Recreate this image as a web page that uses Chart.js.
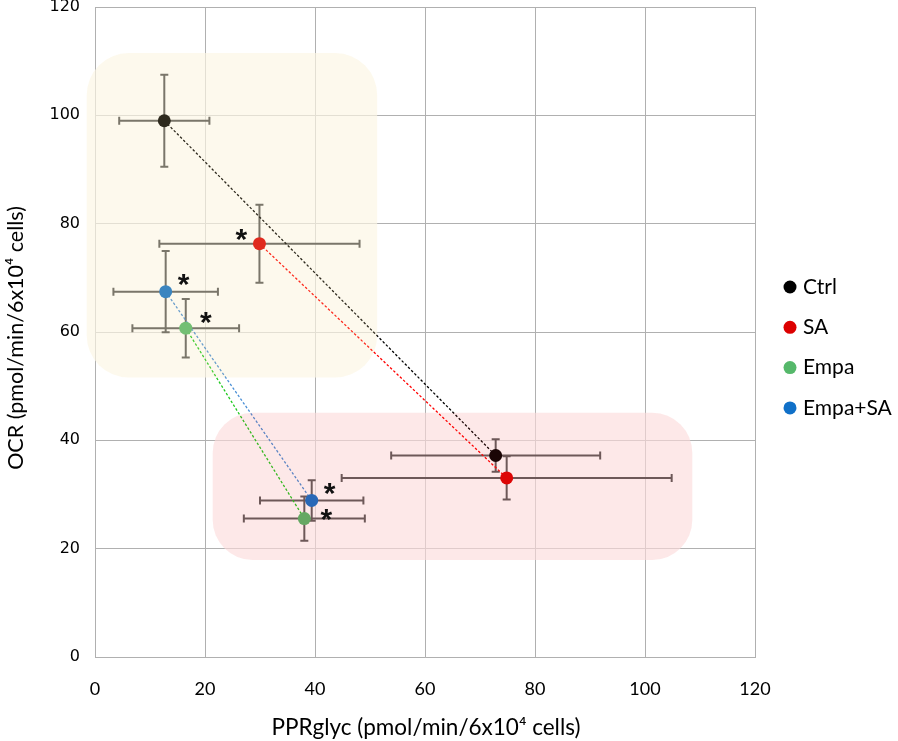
<!DOCTYPE html>
<html>
<head>
<meta charset="utf-8">
<script src="https://cdn.jsdelivr.net/npm/chart.js@4.4.1/dist/chart.umd.min.js"></script>
<style>
  html, body { margin: 0; padding: 0; background: #fff; }
  #wrap { width: 898px; height: 741px; }
</style>
</head>
<body>
<div id="wrap"><canvas id="myChart" width="898" height="741"></canvas></div>
<script>
// groups and values
const groups = ['Ctrl', 'SA', 'Empa', 'Empa+SA'];

// upper-left cluster
const pprA = [12.6, 29.9, 16.5, 12.85];
const ocrA = [99.0, 76.3, 60.7, 67.45];
const pprAErr = [8.2, 18.2, 9.7, 9.5];
const ocrAErr = [8.5, 7.2, 5.4, 7.5];

// lower-right cluster
const pprB = [72.85, 74.85, 38.06, 39.4];
const ocrB = [37.2, 33.06, 25.55, 28.9];
const pprBErr = [19.0, 30.0, 11.0, 9.4];
const ocrBErr = [3.0, 4.0, 4.1, 3.75];

// significance marks
const sigA = [false, true, true, true];
const sigB = [false, false, true, true];

const axisTicks = [0, 20, 40, 60, 80, 100, 120];

const pointColors = ['#000000', '#dc0000', '#55b86a', '#1070c8'];
const lineColors = ['#000000', '#ff0000', '#1ec81e', '#4a8fd6'];

// shaded areas (data units)
const boxes = [
    { x0: -1.5, x1: 51.3, y0: 51.6, y1: 111.5, r: 42, tint: 'rgba(242,221,158,0.19)' },
    { x0: 21.4, x1: 108.6, y0: 17.9, y1: 45.1, r: 40, tint: 'rgba(236,45,45,0.11)' }
];

function roundRect(ctx, x, y, w, h, r) {
    ctx.beginPath();
    ctx.moveTo(x + r, y);
    ctx.arcTo(x + w, y, x + w, y + h, r);
    ctx.arcTo(x + w, y + h, x, y + h, r);
    ctx.arcTo(x, y + h, x, y, r);
    ctx.arcTo(x, y, x + w, y, r);
    ctx.closePath();
}

function boxPath(chart, b) {
    const xs = chart.scales.x, ys = chart.scales.y;
    const l = xs.getPixelForValue(b.x0), r = xs.getPixelForValue(b.x1);
    const t = ys.getPixelForValue(b.y1), bt = ys.getPixelForValue(b.y0);
    roundRect(chart.ctx, l, t, r - l, bt - t, b.r);
}

function drawErr(ctx, xs, ys, x, y, ex, ey) {
    const px = xs.getPixelForValue(x), py = ys.getPixelForValue(y);
    const l = xs.getPixelForValue(x - ex), r = xs.getPixelForValue(x + ex);
    const t = ys.getPixelForValue(y + ey), b = ys.getPixelForValue(y - ey);
    ctx.beginPath();
    ctx.moveTo(l, py); ctx.lineTo(r, py);
    ctx.moveTo(l, py - 4); ctx.lineTo(l, py + 4);
    ctx.moveTo(r, py - 4); ctx.lineTo(r, py + 4);
    ctx.moveTo(px, t); ctx.lineTo(px, b);
    ctx.moveTo(px - 4, t); ctx.lineTo(px + 4, t);
    ctx.moveTo(px - 4, b); ctx.lineTo(px + 4, b);
    ctx.stroke();
}

const asteriskOffA = [null, [-18, -11], [20, -12], [18, -14]];
const asteriskOffB = [null, null, [22, -6], [18, -13]];

const extras = {
    id: 'extras',
    beforeDatasetsDraw(chart) {
        const ctx = chart.ctx, xs = chart.scales.x, ys = chart.scales.y;
        ctx.save();
        // soften grid under the shaded areas
        boxes.forEach(b => {
            boxPath(chart, b);
            ctx.fillStyle = 'rgba(255,255,255,0.6)';
            ctx.fill();
        });
        ctx.strokeStyle = '#5e5e5e';
        ctx.lineWidth = 2;
        for (let i = 0; i < groups.length; i++) {
            drawErr(ctx, xs, ys, pprA[i], ocrA[i], pprAErr[i], ocrAErr[i]);
            drawErr(ctx, xs, ys, pprB[i], ocrB[i], pprBErr[i], ocrBErr[i]);
        }
        ctx.restore();
    },
    afterDatasetsDraw(chart) {
        const ctx = chart.ctx, xs = chart.scales.x, ys = chart.scales.y;
        ctx.save();
        boxes.forEach(b => {
            boxPath(chart, b);
            ctx.fillStyle = b.tint;
            ctx.fill();
        });
        // asterisks
        ctx.fillStyle = '#111';
        ctx.font = 'bold 30px "Liberation Sans"';
        ctx.textAlign = 'center';
        ctx.textBaseline = 'alphabetic';
        for (let i = 0; i < groups.length; i++) {
            if (sigA[i]) {
                const o = asteriskOffA[i];
                ctx.fillText('*', xs.getPixelForValue(pprA[i]) + o[0], ys.getPixelForValue(ocrA[i]) + o[1] + 16);
            }
            if (sigB[i]) {
                const o = asteriskOffB[i];
                ctx.fillText('*', xs.getPixelForValue(pprB[i]) + o[0], ys.getPixelForValue(ocrB[i]) + o[1] + 16);
            }
        }
        ctx.restore();
    },
    afterDraw(chart) {
        const ctx = chart.ctx, area = chart.chartArea;
        ctx.save();
        ctx.fillStyle = '#000';
        ctx.textAlign = 'center';
        ctx.textBaseline = 'alphabetic';
        ctx.font = '22.5px Lato';
        ctx.fillText('PPRglyc (pmol/min/6x10\u2074 cells)', 426, 735);
        ctx.save();
        ctx.translate(23, 338);
        ctx.rotate(-Math.PI / 2);
        ctx.font = '21.5px Lato';
        ctx.fillText('OCR (pmol/min/6x10\u2074 cells)', 0, 0);
        ctx.restore();
        // legend
        ctx.font = '21px Lato';
        ctx.textAlign = 'left';
        ctx.textBaseline = 'middle';
        groups.forEach((g, i) => {
            const y = 287 + i * 40.3;
            ctx.beginPath();
            ctx.arc(790, y, 6.5, 0, Math.PI * 2);
            ctx.fillStyle = pointColors[i];
            ctx.fill();
            ctx.fillStyle = '#000';
            ctx.fillText(g, 803, y);
        });
        ctx.restore();
    }
};

const datasets = groups.map((g, i) => ({
    label: g,
    data: [{ x: pprA[i], y: ocrA[i] }, { x: pprB[i], y: ocrB[i] }],
    showLine: true,
    borderColor: lineColors[i],
    borderWidth: 1.3,
    borderDash: [2.5, 2],
    pointRadius: 6.5,
    pointHoverRadius: 6.5,
    pointBackgroundColor: pointColors[i],
    pointBorderWidth: 0
}));

const gridStyle = { color: '#b0b0b0', lineWidth: 1, drawTicks: false };

function noPad(s) {
    s.paddingTop = 0; s.paddingBottom = 0;
    s.paddingLeft = 0; s.paddingRight = 0;
}

window.onload = function() {
    const ctx = document.getElementById('myChart').getContext('2d');
    new Chart(ctx, {
        type: 'scatter',
        data: { datasets: datasets },
        options: {
            responsive: false,
            animation: false,
            layout: { padding: { top: 7, right: 143, left: 0, bottom: 0 } },
            plugins: { legend: { display: false }, tooltip: { enabled: false } },
            scales: {
                x: {
                    min: 0, max: 120,
                    afterBuildTicks: s => { s.ticks = axisTicks.map(v => ({ value: v })); },
                    afterFit: s => { s.height = 84; noPad(s); },
                    grid: gridStyle,
                    border: { color: '#b0b0b0' },
                    ticks: { color: '#000', font: { family: 'Lato', size: 18 }, padding: 21, maxRotation: 0 }
                },
                y: {
                    min: 0, max: 120,
                    afterBuildTicks: s => { s.ticks = axisTicks.map(v => ({ value: v })); },
                    afterFit: s => { s.width = 95; noPad(s); },
                    grid: gridStyle,
                    border: { color: '#b0b0b0' },
                    ticks: { color: '#000', font: { family: 'DejaVu Sans', size: 16 }, padding: 15 }
                }
            }
        },
        plugins: [extras]
    });
};
</script>
</body>
</html>
